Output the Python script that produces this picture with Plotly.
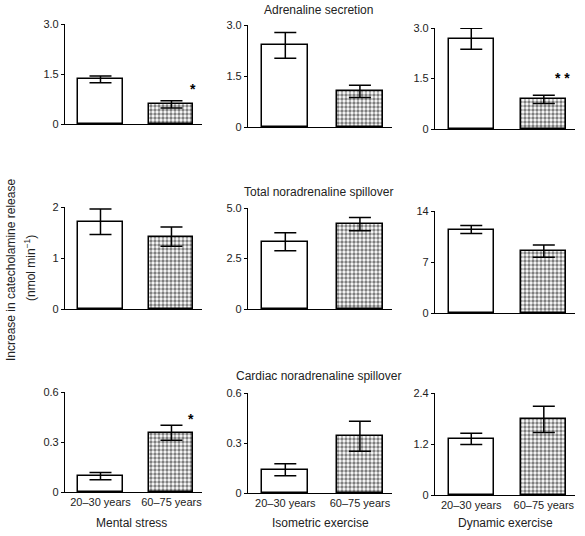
import plotly.graph_objects as go

# ---------------- data ----------------
groups = ["Mental stress", "Isometric exercise", "Dynamic exercise"]
ages = ["20–30 years", "60–75 years"]
row_titles = ["Adrenaline secretion", "Total noradrenaline spillover", "Cardiac noradrenaline spillover"]

young_means = [[1.34, 2.40, 2.68], [1.71, 3.33, 11.45], [0.095, 0.14, 1.32]]
young_err = [[0.10, 0.38, 0.31], [0.25, 0.45, 0.55], [0.022, 0.036, 0.13]]
old_means = [[0.59, 1.05, 0.88], [1.42, 4.20, 8.50], [0.355, 0.34, 1.78]]
old_err = [[0.11, 0.18, 0.12], [0.19, 0.33, 0.85], [0.045, 0.09, 0.31]]

y_max = [[3.0, 3.0, 3.0], [2, 5.0, 14], [0.6, 0.6, 2.4]]
tick_vals = [[[0, 1.5, 3.0]] * 3,
             [[0, 1, 2], [0, 2.5, 5.0], [0, 7, 14]],
             [[0, 0.3, 0.6], [0, 0.3, 0.6], [0, 1.2, 2.4]]]
tick_text = [[["0", "1.5", "3.0"]] * 3,
             [["0", "1", "2"], ["0", "2.5", "5.0"], ["0", "7", "14"]],
             [["0", "0.3", "0.6"], ["0", "0.3", "0.6"], ["0", "1.2", "2.4"]]]

# significance markers: (row, col, x, y, text)
stars = [(0, 0, 1.31, 1.05, "*"), (0, 2, 1.26, 1.51, "* *"), (2, 0, 1.27, 0.44, "*")]

# ---------------- layout geometry (pixels) ----------------
W, H = 585, 536
col_px = [(65, 202), (248, 392), (435, 575)]
row_px = [[(124, 24), (127, 25), (129, 28)],
          [(309, 207), (309, 208), (313, 211)],
          [(492, 392), (493, 393), (495, 393)]]

FONT = "Liberation Sans, Arial, sans-serif"
TXT = "#222222"

fig = go.Figure()
layout = dict(
    width=W, height=H,
    margin=dict(l=0, r=0, t=0, b=0, autoexpand=False),
    paper_bgcolor="white", plot_bgcolor="white",
    showlegend=False,
    font=dict(family=FONT, color=TXT, size=11),
    bargap=0,
)
annotations = []

for r in range(3):
    for c in range(3):
        k = r * 3 + c + 1
        xa = "x" if k == 1 else f"x{k}"
        ya = "y" if k == 1 else f"y{k}"
        fig.add_trace(go.Bar(
            x=[0], y=[young_means[r][c]], width=0.62,
            xaxis=xa, yaxis=ya,
            marker=dict(color="white", line=dict(color="black", width=1.5)),
            error_y=dict(type="data", array=[young_err[r][c]], color="black",
                         thickness=1.5, width=11),
        ))
        fig.add_trace(go.Bar(
            x=[1], y=[old_means[r][c]], width=0.62,
            xaxis=xa, yaxis=ya,
            marker=dict(color="white", line=dict(color="black", width=1.5),
                        pattern=dict(shape=".", fgcolor="black", bgcolor="white",
                                     size=4, solidity=0.55)),
            error_y=dict(type="data", array=[old_err[r][c]], color="black",
                         thickness=1.5, width=11),
        ))
        x0, x1 = col_px[c]
        yb, yt = row_px[r][c]
        xkey = "xaxis" if k == 1 else f"xaxis{k}"
        ykey = "yaxis" if k == 1 else f"yaxis{k}"
        xdict = dict(
            domain=[x0 / W, x1 / W], anchor=ya, range=[-0.5, 1.43],
            showline=True, linecolor="black", linewidth=1.2,
            showgrid=False, zeroline=False, ticks="",
            automargin=False, fixedrange=True,
        )
        if r == 2:
            xdict.update(tickvals=[0, 1], ticktext=ages, showticklabels=True,
                         tickfont=dict(family=FONT, size=11, color=TXT))
        else:
            xdict.update(showticklabels=False)
        layout[xkey] = xdict
        layout[ykey] = dict(
            domain=[1 - yb / H, 1 - yt / H], anchor=xa, range=[0, y_max[r][c]],
            showline=True, linecolor="black", linewidth=1.2,
            showgrid=False, zeroline=False,
            ticks="outside", ticklen=3, tickwidth=1, tickcolor="black",
            tickvals=tick_vals[r][c], ticktext=tick_text[r][c],
            tickfont=dict(family=FONT, size=11, color=TXT),
            automargin=False, fixedrange=True,
        )

for (r, c, xs, ys, t) in stars:
    k = r * 3 + c + 1
    annotations.append(dict(
        x=xs, y=ys, xref="x" if k == 1 else f"x{k}", yref="y" if k == 1 else f"y{k}",
        text=f"<b>{t}</b>", showarrow=False, font=dict(size=14, color="black", family=FONT),
    ))

title_y_px = [10, 192, 376]
for r in range(3):
    annotations.append(dict(
        x=318 / W, y=1 - title_y_px[r] / H, xref="paper", yref="paper",
        text=row_titles[r], showarrow=False, font=dict(size=12, color=TXT, family=FONT),
        xanchor="center", yanchor="middle",
    ))

group_x_px = [131, 320, 505]
for c in range(3):
    annotations.append(dict(
        x=group_x_px[c] / W, y=1 - 523 / H, xref="paper", yref="paper",
        text=groups[c], showarrow=False, font=dict(size=12, color=TXT, family=FONT),
        xanchor="center", yanchor="middle",
    ))

annotations.append(dict(
    x=11 / W, y=1 - 270 / H, xref="paper", yref="paper",
    text="Increase in catecholamine release", textangle=-90, showarrow=False,
    font=dict(size=12, color=TXT, family=FONT), xanchor="center", yanchor="middle",
))
annotations.append(dict(
    x=30 / W, y=1 - 268 / H, xref="paper", yref="paper",
    text="(nmol min<sup>−1</sup>)", textangle=-90, showarrow=False,
    font=dict(size=12, color=TXT, family=FONT), xanchor="center", yanchor="middle",
))

layout["annotations"] = annotations
fig.update_layout(**layout)
fig.write_html(
    "out.html",
    config={"displayModeBar": False},
    post_script="document.body.style.margin='0';document.body.style.overflow='hidden';",
)
